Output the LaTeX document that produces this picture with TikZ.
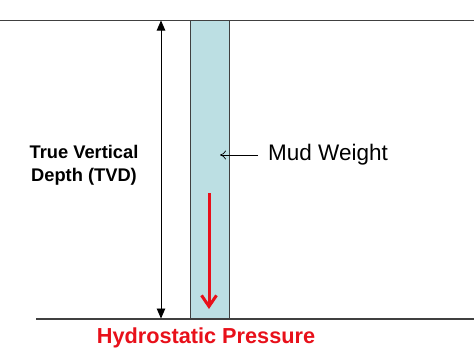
\documentclass[tikz,border=0pt]{standalone}
\usepackage{fontspec}
\setmainfont{Liberation Sans}
\usetikzlibrary{arrows.meta}
\definecolor{mudblue}{HTML}{BCDFE3}
\definecolor{linegray}{HTML}{404040}
\definecolor{hred}{HTML}{E8101A}
\begin{document}
\begin{tikzpicture}[x=1pt,y=-1pt,
  ground/.style={draw=linegray,line width=1.3pt},
  tvdarrow/.style={{Triangle[length=10pt,width=8.5pt]}-{Triangle[length=10pt,width=8.5pt]},line width=0.9pt},
  lbl/.style={inner sep=0pt,align=center}]
\useasboundingbox (0,0) rectangle (474,360);
\fill[white] (0,0) rectangle (474,360);
% column
\node[draw=linegray,fill=mudblue,line width=1pt,minimum width=39pt,minimum height=299pt,inner sep=0pt,anchor=north west] (col) at (190,20) {};
% ground lines
\coordinate (tl) at (0,20.5);
\coordinate (tr) at (474,20.5);
\coordinate (bl) at (36,319);
\coordinate (br) at (474,319);
\draw[ground] (tl) -- (tr);
\draw[ground] (bl) -- (br);
% TVD arrow
\coordinate (at) at (161,20.5);
\coordinate (ab) at (161,318.5);
\draw[tvdarrow] (ab) -- (at);
\node[lbl,font=\bfseries\fontsize{18.3}{23}\selectfont] (tvd) at (84,165) {True Vertical\\Depth (TVD)};
% mud weight
\node[lbl,anchor=west,font=\fontsize{22.5}{26}\selectfont] (mw) at (268,155) {Mud Weight};
\coordinate (mwtip) at (220,155);
\draw[-{To[length=6pt,width=9pt]},line width=0.7pt] ([xshift=-10pt]mw.west) -- (mwtip);
% red arrow
\coordinate (rs) at (209,193);
\coordinate (re) at (209,309);
\draw[hred,line width=3pt,-{Straight Barb[length=11pt,width=15pt,line width=3pt]}] (rs) -- (re);
\node[lbl,text=hred,font=\bfseries\fontsize{21.7}{26}\selectfont] (hp) at (206,338) {Hydrostatic Pressure};
\end{tikzpicture}
\end{document}
